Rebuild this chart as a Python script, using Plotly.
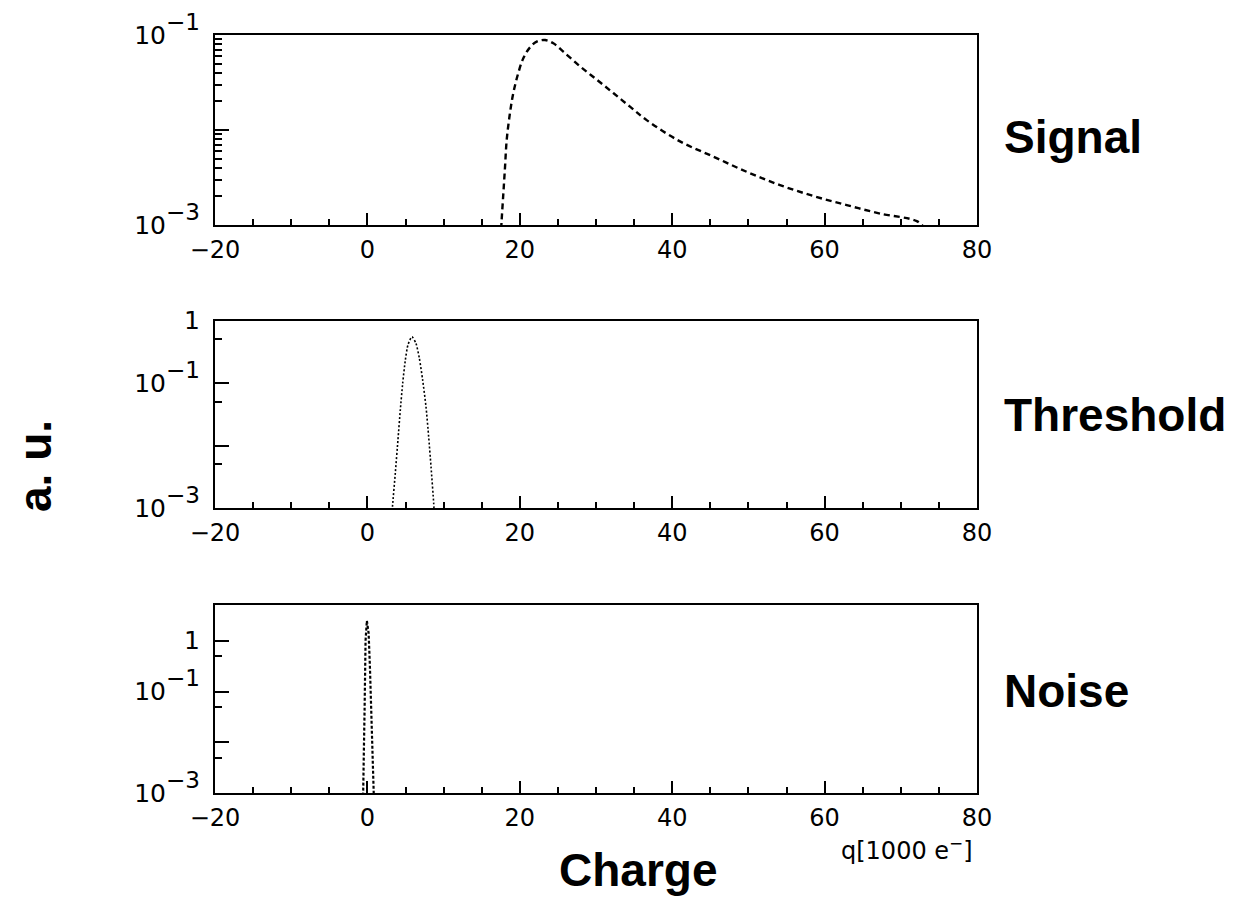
import plotly.graph_objects as go

# ---------------- data ----------------
signal_q = [17.55, 17.62, 17.84, 18.06, 18.28, 18.71, 19.15, 19.80, 20.46, 21.34, 22.22,
            23.31, 24.40, 25.71, 27.90, 30.09, 32.27, 34.46, 36.65, 41.02, 45.39,
            49.78, 54.15, 58.52, 62.90, 67.27, 72.09, 73.0]
signal_v = [0.0009, 0.00113, 0.00214, 0.00407, 0.00785, 0.0151, 0.0245, 0.0398, 0.0569,
            0.0741, 0.0851, 0.0885, 0.0817, 0.0668, 0.0468, 0.0339, 0.0245, 0.0176,
            0.0127, 0.00759, 0.00525, 0.00363, 0.00263, 0.00202, 0.00162, 0.00132,
            0.00110, 0.00095]

threshold_q = [3.25, 3.31, 3.66, 4.01, 4.32, 4.63, 4.98, 5.32, 5.85, 6.37, 6.82, 7.25,
               7.69, 8.04, 8.35, 8.70, 8.75]
threshold_v = [0.0009, 0.00112, 0.00359, 0.0123, 0.0372, 0.0989, 0.234, 0.407, 0.550,
               0.432, 0.248, 0.112, 0.0417, 0.0138, 0.00457, 0.00119, 0.0009]

noise_q = [-0.56, -0.54, -0.46, -0.37, -0.33, -0.24, -0.07, 0.16, 0.33, 0.46, 0.64, 0.82, 0.84]
noise_v = [0.0009, 0.00117, 0.00724, 0.0437, 0.229, 1.02, 2.45, 1.40, 0.309, 0.0513,
           0.00832, 0.00117, 0.0009]

x_major = [-20, 0, 20, 40, 60, 80]
x_minor = [-15, -10, -5, 5, 10, 15, 25, 30, 35, 45, 50, 55, 65, 70, 75]

SUP = "<span style='font-size:33px'><sup>{}</sup></span>"
sig_yticks = [1e-3, 1e-2, 1e-1]
sig_yticktext = ["10" + SUP.format("−3"), "", "10" + SUP.format("−1")]
sig_yminor = [m * 10 ** e for e in (-3, -2) for m in range(2, 10)]

thr_yticks = [1e-3, 1e-2, 1e-1, 1]
thr_yticktext = ["10" + SUP.format("−3"), "", "10" + SUP.format("−1"), "1"]
thr_yminor = [0.005, 0.05, 0.5]

noi_yticks = [1e-3, 1e-2, 1e-1, 1]
noi_yticktext = ["10" + SUP.format("−3"), "", "10" + SUP.format("−1"), "1"]
noi_yminor = [0.005, 0.05, 0.5]

labels = ["Signal", "Threshold", "Noise"]

# ---------------- figure ----------------
W, H = 1243, 899
def px_x(x):
    return x / W
def px_y(y):
    return 1 - y / H

fig = go.Figure()
fig.add_trace(go.Scatter(x=signal_q, y=signal_v, mode="lines", xaxis="x", yaxis="y",
                         line=dict(color="black", width=2.4, dash="6px,4px", shape="spline", smoothing=1.0),
                         showlegend=False))
fig.add_trace(go.Scatter(x=threshold_q, y=threshold_v, mode="lines", xaxis="x2", yaxis="y2",
                         line=dict(color="black", width=1.6, dash="2px,2px", shape="spline", smoothing=0.6),
                         showlegend=False))
fig.add_trace(go.Scatter(x=noise_q, y=noise_v, mode="lines", xaxis="x3", yaxis="y3",
                         line=dict(color="black", width=2.2, dash="3px,2px"),
                         showlegend=False))

xtick_font = dict(family="DejaVu Sans", size=24, color="black")
ytick_font = dict(family="DejaVu Sans", size=25, color="black")
xdom = [px_x(215), px_x(977)]

def xaxis(anchor):
    return dict(domain=xdom, anchor=anchor, range=[-20, 80], type="linear",
                tickmode="array", tickvals=x_major, ticks="inside", ticklen=12,
                tickwidth=1.5, tickcolor="black",
                minor=dict(tickmode="array", tickvals=x_minor, ticks="inside", ticklen=6,
                           tickwidth=1.5, tickcolor="black", showgrid=False),
                showline=True, linecolor="black", linewidth=2, mirror=True,
                showgrid=False, zeroline=False, tickfont=xtick_font,
                ticklabelstandoff=2, automargin=False, fixedrange=True)

def yaxis(anchor, dom, rng, tv, tt, minor):
    return dict(domain=dom, anchor=anchor, type="log", range=rng,
                tickmode="array", tickvals=tv, ticktext=tt, ticks="inside", ticklen=14,
                tickwidth=1.5, tickcolor="black",
                minor=dict(tickmode="array", tickvals=minor, ticks="inside", ticklen=7,
                           tickwidth=1.5, tickcolor="black", showgrid=False),
                showline=True, linecolor="black", linewidth=2, mirror=True,
                showgrid=False, zeroline=False, tickfont=ytick_font,
                ticklabelstandoff=8, automargin=False, fixedrange=True)

fig.update_layout(
    width=W, height=H, autosize=False,
    margin=dict(l=0, r=0, t=0, b=0, autoexpand=False),
    paper_bgcolor="white", plot_bgcolor="white",
    xaxis=xaxis("y"),
    xaxis2=xaxis("y2"),
    xaxis3=xaxis("y3"),
    yaxis=yaxis("x", [px_y(225), px_y(35)], [-3, -1], sig_yticks, sig_yticktext, sig_yminor),
    yaxis2=yaxis("x2", [px_y(508), px_y(320.5)], [-3, 0], thr_yticks, thr_yticktext, thr_yminor),
    yaxis3=yaxis("x3", [px_y(793.3), px_y(605)], [-3, 0.7], noi_yticks, noi_yticktext, noi_yminor),
)

big = dict(family="Liberation Sans", size=46, color="black", weight="bold")
label_y = [137, 415, 691]
for txt, yy in zip(labels, label_y):
    fig.add_annotation(text=f"<b>{txt}</b>", x=px_x(1002), y=px_y(yy), xref="paper", yref="paper",
                       xanchor="left", yanchor="middle", showarrow=False, font=big)

fig.add_annotation(text="<b>Charge</b>", x=px_x(638), y=px_y(870), xref="paper", yref="paper",
                   xanchor="center", yanchor="middle", showarrow=False, font=big)
fig.add_annotation(text="<b>a. u.</b>", x=px_x(35), y=px_y(466), xref="paper", yref="paper",
                   xanchor="center", yanchor="middle", textangle=-90, showarrow=False, font=big)
fig.add_annotation(text="q[1000 e<sup>−</sup>]", x=px_x(907), y=px_y(849), xref="paper", yref="paper",
                   xanchor="center", yanchor="middle", showarrow=False,
                   font=dict(family="DejaVu Sans", size=24, color="black"))

fig.write_html("out.html")
